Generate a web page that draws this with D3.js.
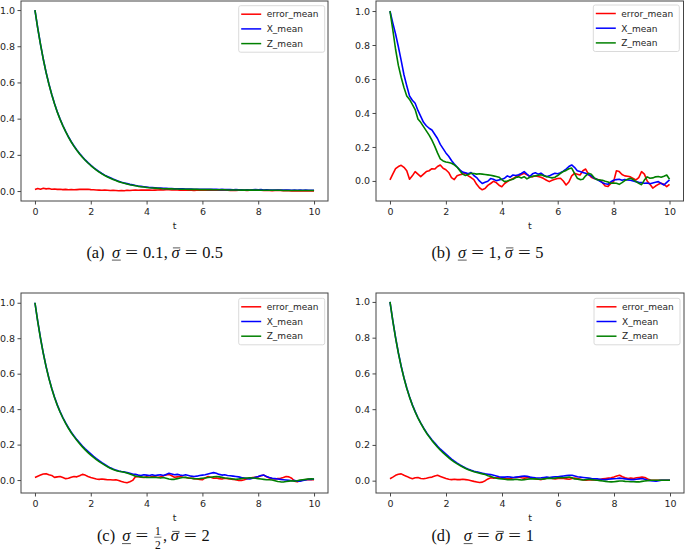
<!DOCTYPE html>
<html><head><meta charset="utf-8">
<script src="https://cdn.jsdelivr.net/npm/d3@7"></script>
<style>
body{margin:0;background:#fff;}
svg{display:block;background:#fff;}
</style></head><body>
<svg id="chart" width="685" height="557"></svg>
<script>
// ---------------- data ----------------
const tValues = d3.range(0, 101).map(i => i / 10);   // sampling grid t = 0 .. 10
const xTicks = [0, 2, 4, 6, 8, 10];
const yTicks = [0.0, 0.2, 0.4, 0.6, 0.8, 1.0];
const seriesNames = ["error_mean", "X_mean", "Z_mean"];
const seriesColors = ["#ff0000", "#0000ff", "#008000"];

// (a)
const aErr = [0.008,0.014,0.010,0.015,0.012,0.014,0.010,0.011,0.009,0.010,
  0.008,0.009,0.007,0.008,0.007,0.008,0.009,0.010,0.009,0.010,
  0.008,0.007,0.006,0.005,0.004,0.005,0.004,0.003,0.004,0.003,
  0.002,0.003,0.002,0.004,0.003,0.004,0.005,0.004,0.005,0.006,
  0.005,0.006,0.004,0.005,0.006,0.007,0.006,0.008,0.007,0.006,
  0.007,0.006,0.005,0.004,0.005,0.006,0.004,0.003,0.004,0.005,
  0.004,0.006,0.005,0.004,0.005,0.006,0.005,0.004,0.005,0.004,
  0.003,0.004,0.003,0.004,0.005,0.004,0.003,0.004,0.005,0.004,
  0.005,0.004,0.003,0.004,0.003,0.002,0.003,0.004,0.003,0.002,
  0.003,0.002,0.001,0.002,0.001,0.002,0.001,0.002,0.001,0.002,
  0.001];
const aX = [1.000,0.900,0.810,0.728,0.655,0.592,0.535,0.484,0.438,0.398,
  0.362,0.330,0.300,0.273,0.249,0.227,0.207,0.189,0.172,0.157,
  0.143,0.130,0.118,0.107,0.097,0.088,0.080,0.073,0.066,0.060,
  0.054,0.049,0.045,0.041,0.037,0.034,0.031,0.028,0.026,0.024,
  0.022,0.020,0.019,0.018,0.017,0.016,0.015,0.015,0.014,0.014,
  0.013,0.013,0.012,0.012,0.011,0.011,0.011,0.010,0.010,0.010,
  0.010,0.010,0.009,0.010,0.009,0.009,0.008,0.009,0.008,0.008,
  0.008,0.007,0.008,0.007,0.007,0.006,0.007,0.006,0.007,0.008,
  0.007,0.008,0.006,0.007,0.006,0.005,0.006,0.005,0.006,0.005,
  0.006,0.005,0.004,0.005,0.004,0.005,0.004,0.005,0.004,0.004,
  0.004];
const aZ = [1.000,0.899,0.809,0.727,0.654,0.590,0.533,0.482,0.436,0.396,
  0.360,0.328,0.298,0.271,0.247,0.225,0.205,0.187,0.170,0.155,
  0.141,0.128,0.116,0.105,0.095,0.086,0.078,0.071,0.064,0.058,
  0.052,0.047,0.043,0.039,0.035,0.032,0.029,0.026,0.024,0.022,
  0.020,0.018,0.017,0.016,0.015,0.014,0.013,0.013,0.012,0.012,
  0.011,0.011,0.010,0.010,0.010,0.009,0.009,0.009,0.009,0.008,
  0.008,0.008,0.008,0.008,0.007,0.007,0.007,0.007,0.007,0.006,
  0.006,0.006,0.006,0.006,0.005,0.005,0.005,0.005,0.005,0.005,
  0.005,0.004,0.004,0.004,0.004,0.004,0.004,0.004,0.004,0.003,
  0.003,0.003,0.003,0.003,0.003,0.003,0.003,0.003,0.003,0.003,
  0.003];

// (b)
const bErr = [0.006,0.040,0.072,0.085,0.092,0.080,0.060,0.010,0.030,0.055,
  0.040,0.025,0.040,0.055,0.060,0.072,0.070,0.085,0.094,0.075,
  0.066,0.050,0.020,0.008,0.030,0.036,0.040,0.046,0.030,0.020,
  0.008,-0.020,-0.040,-0.052,-0.045,-0.026,-0.015,-0.002,-0.010,-0.025,
  -0.034,-0.015,-0.004,0.006,0.014,0.024,0.030,0.038,0.045,0.036,
  0.028,0.024,0.030,0.026,0.022,0.014,0.004,-0.004,0.004,0.010,
  0.014,0.016,0.000,-0.024,-0.006,0.030,0.045,0.040,0.035,0.060,
  0.070,0.040,0.022,0.014,0.010,0.006,-0.010,-0.030,-0.032,-0.015,
  -0.004,0.060,0.055,0.038,0.030,0.028,0.024,0.015,0.006,0.020,
  0.055,0.040,0.000,-0.020,-0.042,-0.030,-0.020,-0.014,-0.020,-0.034,
  -0.020];
const bX = [1.000,0.930,0.865,0.790,0.710,0.625,0.560,0.500,0.475,0.457,
  0.415,0.380,0.345,0.325,0.310,0.300,0.275,0.250,0.215,0.190,
  0.165,0.145,0.120,0.100,0.082,0.065,0.052,0.048,0.042,0.050,
  0.032,0.020,0.000,-0.015,-0.008,-0.002,0.014,0.010,0.002,0.006,
  0.010,0.016,0.030,0.022,0.035,0.032,0.036,0.044,0.055,0.040,
  0.026,0.042,0.048,0.040,0.046,0.034,0.025,0.030,0.038,0.045,
  0.042,0.048,0.058,0.070,0.085,0.094,0.080,0.060,0.055,0.050,
  0.045,0.036,0.030,0.016,0.010,0.000,-0.010,-0.016,-0.020,-0.005,
  0.004,0.008,0.010,0.004,0.008,0.006,0.004,0.000,-0.004,-0.008,
  -0.010,-0.014,-0.012,-0.016,-0.012,-0.008,-0.004,-0.014,-0.024,-0.008,
  0.006];
const bZ = [1.000,0.890,0.775,0.680,0.610,0.550,0.500,0.480,0.450,0.420,
  0.365,0.345,0.320,0.295,0.270,0.240,0.205,0.165,0.130,0.118,
  0.112,0.108,0.104,0.095,0.082,0.060,0.040,0.032,0.038,0.045,
  0.044,0.040,0.042,0.040,0.038,0.036,0.034,0.030,0.026,0.022,
  0.008,-0.004,0.000,0.006,0.010,0.020,0.024,0.018,0.025,0.012,
  0.022,0.028,0.030,0.034,0.036,0.030,0.026,0.022,0.018,0.022,
  0.032,0.045,0.055,0.062,0.072,0.076,0.045,0.016,0.008,0.010,
  0.030,0.045,0.040,0.020,0.008,0.006,0.004,-0.002,-0.006,-0.014,
  -0.012,-0.014,-0.020,-0.010,0.002,0.010,0.016,0.008,-0.004,-0.014,
  -0.022,0.005,0.024,0.016,0.018,0.024,0.026,0.022,0.028,0.035,
  0.010];

// (c)
const cErr = [0.015,0.022,0.028,0.034,0.036,0.030,0.026,0.015,0.018,0.020,
  0.014,0.008,0.010,0.016,0.020,0.018,0.024,0.032,0.028,0.020,
  0.014,0.010,0.006,0.004,0.006,0.004,0.002,0.002,0.000,0.002,
  -0.002,-0.008,-0.012,-0.015,-0.010,-0.002,0.018,0.020,0.016,0.014,
  0.018,0.016,0.020,0.018,0.014,0.018,0.024,0.028,0.032,0.024,
  0.016,0.018,0.020,0.016,0.014,0.012,0.010,0.008,0.006,0.004,
  0.002,0.012,0.020,0.016,0.010,0.012,0.008,0.006,0.010,0.008,
  0.006,0.004,0.002,-0.002,-0.002,0.002,0.008,0.012,0.014,0.016,
  0.018,0.024,0.028,0.018,0.012,0.008,0.006,0.008,0.010,0.014,
  0.020,0.018,0.010,-0.006,-0.010,-0.004,0.000,0.002,0.004,0.002,
  0.002];
const cX = [1.000,0.895,0.800,0.715,0.640,0.575,0.518,0.468,0.424,0.386,
  0.352,0.322,0.295,0.270,0.248,0.228,0.210,0.192,0.176,0.162,
  0.148,0.134,0.121,0.109,0.098,0.088,0.078,0.069,0.062,0.056,
  0.051,0.048,0.046,0.042,0.038,0.034,0.032,0.028,0.026,0.030,
  0.028,0.026,0.030,0.026,0.028,0.030,0.026,0.032,0.038,0.034,
  0.030,0.032,0.028,0.026,0.030,0.026,0.022,0.020,0.022,0.026,
  0.028,0.030,0.034,0.038,0.042,0.038,0.032,0.028,0.030,0.026,
  0.024,0.022,0.020,0.018,0.014,0.012,0.008,0.006,0.010,0.016,
  0.020,0.026,0.028,0.020,0.014,0.010,0.008,0.006,0.004,0.002,
  0.000,-0.002,-0.004,-0.002,-0.006,-0.006,-0.002,0.000,0.004,0.004,
  0.006];
const cZ = [1.000,0.894,0.798,0.713,0.638,0.573,0.516,0.466,0.422,0.384,
  0.350,0.320,0.292,0.267,0.245,0.224,0.205,0.187,0.170,0.155,
  0.141,0.128,0.115,0.104,0.094,0.084,0.075,0.066,0.059,0.054,
  0.050,0.047,0.044,0.040,0.034,0.028,0.022,0.020,0.018,0.016,
  0.015,0.014,0.015,0.016,0.014,0.012,0.014,0.010,0.006,0.004,
  0.004,0.008,0.012,0.014,0.015,0.012,0.010,0.008,0.007,0.008,
  0.010,0.012,0.014,0.016,0.018,0.020,0.018,0.015,0.012,0.010,
  0.008,0.006,0.004,0.006,0.008,0.010,0.012,0.013,0.012,0.010,
  0.008,0.006,0.004,0.002,0.002,0.000,-0.004,-0.008,-0.010,-0.011,
  -0.008,-0.006,-0.004,-0.006,-0.004,0.000,0.002,0.004,0.006,0.007,
  0.006];

// (d)
const dErr = [0.011,0.020,0.030,0.036,0.038,0.030,0.024,0.016,0.011,0.016,
  0.018,0.012,0.011,0.014,0.018,0.020,0.026,0.030,0.024,0.018,
  0.012,0.008,0.006,0.008,0.006,0.006,0.008,0.006,0.004,0.000,
  -0.004,-0.007,-0.010,-0.008,0.000,0.010,0.016,0.014,0.016,0.016,
  0.014,0.012,0.010,0.012,0.016,0.018,0.020,0.016,0.014,0.016,
  0.018,0.014,0.010,0.008,0.006,0.010,0.014,0.016,0.012,0.010,
  0.012,0.014,0.012,0.010,0.008,0.012,0.014,0.012,0.008,0.004,
  0.002,0.004,0.006,0.004,0.002,0.006,0.010,0.012,0.014,0.016,
  0.020,0.026,0.030,0.022,0.016,0.012,0.014,0.012,0.016,0.018,
  0.020,0.018,0.010,0.004,0.002,0.002,0.002,0.002,0.002,0.002,
  0.002];
const dX = [1.000,0.895,0.800,0.715,0.640,0.575,0.518,0.468,0.424,0.386,
  0.352,0.322,0.295,0.270,0.248,0.228,0.210,0.192,0.176,0.162,
  0.148,0.134,0.121,0.109,0.098,0.088,0.079,0.071,0.064,0.058,
  0.053,0.049,0.046,0.042,0.038,0.036,0.034,0.030,0.026,0.022,
  0.020,0.020,0.022,0.020,0.018,0.020,0.022,0.024,0.026,0.024,
  0.020,0.018,0.016,0.015,0.016,0.018,0.020,0.018,0.020,0.022,
  0.022,0.024,0.026,0.028,0.030,0.030,0.026,0.022,0.020,0.018,
  0.016,0.014,0.012,0.011,0.010,0.008,0.006,0.006,0.008,0.010,
  0.011,0.012,0.014,0.012,0.010,0.008,0.006,0.006,0.008,0.010,
  0.012,0.008,0.002,0.000,-0.002,-0.003,0.000,0.002,0.002,0.002,
  0.002];
const dZ = [1.000,0.894,0.798,0.713,0.638,0.573,0.516,0.466,0.422,0.384,
  0.350,0.320,0.292,0.267,0.245,0.224,0.205,0.187,0.170,0.155,
  0.141,0.128,0.115,0.104,0.094,0.085,0.076,0.068,0.061,0.055,
  0.050,0.046,0.042,0.038,0.034,0.028,0.024,0.018,0.014,0.011,
  0.010,0.008,0.006,0.006,0.006,0.008,0.006,0.004,0.006,0.008,
  0.010,0.011,0.010,0.008,0.008,0.010,0.012,0.014,0.012,0.014,
  0.016,0.017,0.016,0.018,0.020,0.016,0.010,0.008,0.006,0.004,
  0.006,0.008,0.006,0.004,0.002,0.000,-0.002,-0.004,-0.006,-0.007,
  -0.006,-0.004,-0.002,-0.002,-0.004,-0.005,-0.006,-0.006,-0.007,-0.007,
  -0.004,-0.002,0.000,0.002,0.002,0.002,0.002,0.002,0.002,0.002,
  0.002];

// ---------------- layout ----------------
const svg = d3.select("#chart");
const tickFont = "DejaVu Sans, sans-serif";
const capFont = "Liberation Serif, 'DejaVu Serif', serif";

const panels = [
  {left:21,  right:328,   top:1,   bottom:201, yDomain:[-0.055,1.05], series:[aErr,aX,aZ],
   legend:{x:238.7, y:5.7}, cap:{x:85, y:257.5, label:"(a)", kind:"ab", v1:"0.1", v2:"0.5"}},
  {left:376, right:683.5, top:1,   bottom:201, yDomain:[-0.118,1.059], series:[bErr,bX,bZ],
   legend:{x:593.3, y:5}, cap:{x:430, y:257.5, label:"(b)", kind:"ab", v1:"1", v2:"5"}},
  {left:21,  right:328,   top:293, bottom:493, yDomain:[-0.073,1.055], series:[cErr,cX,cZ],
   legend:{x:238.7, y:298.3}, cap:{x:96, y:541, label:"(c)", kind:"c"}},
  {left:376, right:684,   top:293, bottom:493, yDomain:[-0.069,1.05], series:[dErr,dX,dZ],
   legend:{x:594, y:298.3}, cap:{x:430, y:541, label:"(d)", kind:"d"}}
];

panels.forEach((p, pi) => {
  const x = d3.scaleLinear().domain([-0.5, 10.5]).range([p.left, p.right]);
  const y = d3.scaleLinear().domain(p.yDomain).range([p.bottom, p.top]);
  const g = svg.append("g");

  const clipId = "clip" + pi;
  g.append("clipPath").attr("id", clipId).append("rect")
    .attr("x", p.left).attr("y", p.top).attr("width", p.right - p.left).attr("height", p.bottom - p.top);

  const line = d3.line().x((d, i) => x(tValues[i])).y(d => y(d));
  const lg = g.append("g").attr("clip-path", `url(#${clipId})`);
  p.series.forEach((s, si) => {
    lg.append("path").datum(s).attr("d", line)
      .attr("fill", "none").attr("stroke", seriesColors[si])
      .attr("stroke-width", 1.6).attr("stroke-linejoin", "round");
  });

  // axes
  const xAxis = d3.axisBottom(x).tickValues(xTicks).tickFormat(d3.format("d")).tickSize(3.5).tickPadding(4);
  const yAxis = d3.axisLeft(y).tickValues(yTicks).tickFormat(d3.format(".1f")).tickSize(3.5).tickPadding(2.5);
  const gx = g.append("g").attr("transform", `translate(0,${p.bottom})`).call(xAxis);
  const gy = g.append("g").attr("transform", `translate(${p.left},0)`).call(yAxis);
  [gx, gy].forEach(a => {
    a.select(".domain").remove();
    a.selectAll(".tick line").attr("stroke", "#333").attr("stroke-width", 0.9);
    a.selectAll(".tick text").attr("fill", "#262626").style("font-family", tickFont).style("font-size", "9.5px");
  });

  // frame
  g.append("rect").attr("x", p.left).attr("y", p.top)
    .attr("width", p.right - p.left).attr("height", p.bottom - p.top)
    .attr("fill", "none").attr("stroke", "#444").attr("stroke-width", 1);

  // x label
  g.append("text").attr("x", (p.left + p.right) / 2).attr("y", p.bottom + 27.5)
    .attr("text-anchor", "middle").attr("fill", "#262626")
    .style("font-family", tickFont).style("font-size", "9.5px").text("t");

  // legend
  const L = g.append("g").attr("transform", `translate(${p.legend.x},${p.legend.y})`);
  L.append("rect").attr("width", 86).attr("height", 46.5).attr("rx", 2)
    .attr("fill", "#fff").attr("fill-opacity", 0.8).attr("stroke", "#d6d6d6").attr("stroke-width", 0.9);
  seriesNames.forEach((n, i) => {
    const yy = 8.5 + i * 14.7;
    L.append("line").attr("x1", 2.5).attr("x2", 22.5).attr("y1", yy).attr("y2", yy)
      .attr("stroke", seriesColors[i]).attr("stroke-width", 1.5);
    L.append("text").attr("x", 28).attr("y", yy + 3.3).attr("fill", "#262626")
      .style("font-family", tickFont).style("font-size", "9px").text(n);
  });

  drawCaption(p.cap);
});

// caption, laid out with TeX-like advance widths (em units)
function drawCaption(c) {
  const em = 16.4;
  const g = svg.append("g").style("font-family", capFont).style("font-size", em + "px").attr("fill", "#111");
  let pieces;
  if (c.kind === "ab") {
    pieces = [
      {t: c.label, w: c.label === "(a)" ? 1.278 : 1.334},
      {sp: true, w: 0.333},
      {t: "σ", w: 0.571, it: true, under: true},
      {t: "=", w: 1.333, eq: true},
      {t: c.v1, w: 0.5 * c.v1.replace(".", "").length + (c.v1.includes(".") ? 0.278 : 0)},
      {t: ",", w: 0.278}, {sp: true, w: 0.167},
      {t: "σ", w: 0.571, it: true, bar: true},
      {t: "=", w: 1.333, eq: true},
      {t: c.v2, w: 0.5 * c.v2.replace(".", "").length + (c.v2.includes(".") ? 0.278 : 0)}
    ];
  } else if (c.kind === "c") {
    pieces = [
      {t: c.label, w: 1.222}, {sp: true, w: 0.333},
      {t: "σ", w: 0.571, it: true, under: true},
      {t: "=", w: 1.333, eq: true},
      {frac: ["1", "2"], w: 0.62},
      {t: ",", w: 0.278}, {sp: true, w: 0.167},
      {t: "σ", w: 0.571, it: true, bar: true},
      {t: "=", w: 1.333, eq: true},
      {t: "2", w: 0.5}
    ];
  } else {
    pieces = [
      {t: c.label, w: 1.334}, {sp: true, w: 0.69},
      {t: "σ", w: 0.571, it: true, under: true},
      {t: "=", w: 1.333, eq: true},
      {t: "σ", w: 0.571, it: true, bar: true},
      {t: "=", w: 1.333, eq: true},
      {t: "1", w: 0.5}
    ];
  }
  let x = c.x;
  pieces.forEach(p => {
    const w = p.w * em;
    if (p.frac) {
      const cx = x + w / 2;
      g.append("text").attr("x", cx).attr("y", c.y - 5.8).attr("text-anchor", "middle")
        .style("font-size", (em * 0.7) + "px").text(p.frac[0]);
      g.append("line").attr("x1", x + 1.5).attr("x2", x + w - 1.5).attr("y1", c.y - 3.8).attr("y2", c.y - 3.8)
        .attr("stroke", "#111").attr("stroke-width", 0.6);
      g.append("text").attr("x", cx).attr("y", c.y + 7.8).attr("text-anchor", "middle")
        .style("font-size", (em * 0.7) + "px").text(p.frac[1]);
    } else if (p.eq) {
      const cx = x + w / 2;
      g.append("text").attr("transform", `translate(${cx},${c.y}) scale(1.38,1)`)
        .attr("text-anchor", "middle").text("=");
    } else if (!p.sp) {
      const t = g.append("text").attr("x", x + w / 2).attr("y", c.y).attr("text-anchor", "middle").text(p.t);
      if (p.it) t.style("font-style", "italic");
      if (p.under) g.append("line").attr("x1", x + 0.5).attr("x2", x + w).attr("y1", c.y + 2.6).attr("y2", c.y + 2.6)
        .attr("stroke", "#111").attr("stroke-width", 0.7);
      if (p.bar) g.append("line").attr("x1", x + 2).attr("x2", x + w).attr("y1", c.y - 9.6).attr("y2", c.y - 9.6)
        .attr("stroke", "#111").attr("stroke-width", 0.7);
    }
    x += w;
  });
}
</script>
</body></html>
